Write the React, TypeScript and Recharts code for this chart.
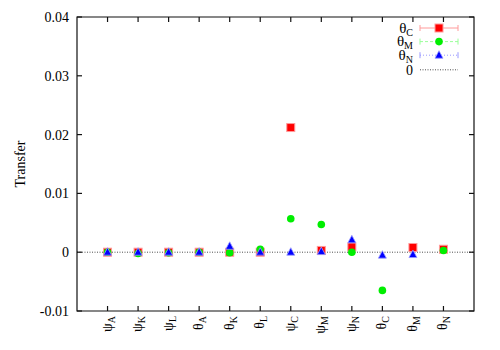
import React from 'react';
import {
  ScatterChart,
  Scatter,
  XAxis,
  YAxis,
  ReferenceLine,
  ReferenceArea,
  Legend
} from 'recharts';

// category labels: greek symbol + subscript
const symbols = ['ψ', 'ψ', 'ψ', 'θ', 'θ', 'θ', 'ψ', 'ψ', 'ψ', 'θ', 'θ', 'θ'];
const subscripts = ['A', 'K', 'L', 'A', 'K', 'L', 'C', 'M', 'N', 'C', 'M', 'N'];

// series values (null = no point drawn)
const thetaC = [0, 0, 0, 0, 0, 0, 0.0212, 0.0003, 0.0009, null, 0.0008, 0.0005];
const thetaM = [0, -0.0002, -0.0001, 0, -0.0001, 0.0005, 0.0057, 0.0047, 0, -0.0065, null, 0.0003];
const thetaN = [0, 0, 0, 0, 0.001, 0, 0, 0.0001, 0.0021, -0.0005, -0.0004, null];

const yTicks = [-0.01, 0, 0.01, 0.02, 0.03, 0.04];
const xTicks = subscripts.map((_, i) => i + 1);

const FONT = '"Liberation Serif", "Times New Roman", serif';
const PLOT = { left: 77, right: 474, top: 17, bottom: 311 };
const TICK = 5;

const toPoints = (vals: (number | null)[]) =>
  vals
    .map((v, i) => (v === null ? null : { x: i + 1, y: v }))
    .filter(p => p !== null) as { x: number; y: number }[];

const series = [
  { key: 'C', name: 'θ', sub: 'C', data: toPoints(thetaC), color: '#ff0000', light: '#ff9a9a', dash: undefined, shape: 'square' },
  { key: 'M', name: 'θ', sub: 'M', data: toPoints(thetaM), color: '#00ee00', light: '#9aff9a', dash: '3 2', shape: 'circle' },
  { key: 'N', name: 'θ', sub: 'N', data: toPoints(thetaN), color: '#0000ff', light: '#9a9aff', dash: '1 2', shape: 'triangle' }
];

const Marker = ({ cx, cy, shape, color, light }: any) => {
  if (cx == null || cy == null) return null;
  if (shape === 'square') {
    return <rect x={cx - 4} y={cy - 4} width={8} height={8} fill={color} stroke={light} strokeWidth={1} />;
  }
  if (shape === 'circle') {
    return <circle cx={cx} cy={cy} r={3.8} fill={color} />;
  }
  return (
    <path
      d={`M${cx},${cy - 4.5} L${cx + 4},${cy + 3} L${cx - 4},${cy + 3} Z`}
      fill={color}
      stroke={light}
      strokeWidth={0.8}
    />
  );
};

const txt = { fontFamily: FONT, fill: '#000' };

// left tick draws its mirror on the right border too
const LeftTick = ({ y, payload }: any) => (
  <g>
    <line x1={PLOT.left} x2={PLOT.left + TICK} y1={y} y2={y} stroke="#111" strokeWidth={1.2} />
    <line x1={PLOT.right} x2={PLOT.right - TICK} y1={y} y2={y} stroke="#111" strokeWidth={1.2} />
    <text x={69} y={y} dy="0.35em" textAnchor="end" fontSize={14} style={txt}>
      {payload.value}
    </text>
  </g>
);

// bottom tick draws its mirror on the top border too
const BottomTick = ({ x, payload }: any) => {
  const i = payload.value - 1;
  return (
    <g>
      <line x1={x} x2={x} y1={PLOT.bottom} y2={PLOT.bottom - TICK} stroke="#111" strokeWidth={1.2} />
      <line x1={x} x2={x} y1={PLOT.top} y2={PLOT.top + TICK} stroke="#111" strokeWidth={1.2} />
      <g transform={`translate(${x + 4},${PLOT.bottom + 5}) rotate(-90)`}>
        <text x={0} y={0} textAnchor="end" fontSize={14} style={txt}>
          {symbols[i]}
          <tspan fontSize={10} dy={3}>{subscripts[i]}</tspan>
        </text>
      </g>
    </g>
  );
};

const YLabel = ({ viewBox }: any) => {
  const cx = 20;
  const cy = viewBox.y + viewBox.height / 2;
  return (
    <text
      x={cx}
      y={cy}
      transform={`rotate(-90, ${cx}, ${cy})`}
      textAnchor="middle"
      dy="0.35em"
      fontSize={14}
      style={txt}
    >
      Transfer
    </text>
  );
};

const LegendBox = () => {
  const rowY = (i: number) => 10 + i * 13.6;
  return (
    <svg width={110} height={62} style={{ display: 'block' }}>
      {series.map((s, i) => {
        const y = rowY(i);
        return (
          <g key={s.key}>
            <text x={43} y={y} dy="0.3em" textAnchor="end" fontSize={15} style={txt}>
              {s.name}
              <tspan fontSize={10} dy={3}>{s.sub}</tspan>
            </text>
            <line x1={50} x2={88} y1={y} y2={y} stroke={s.light} strokeDasharray={s.dash} />
            <line x1={50} x2={50} y1={y - 3} y2={y + 3} stroke={s.light} />
            <line x1={88} x2={88} y1={y - 3} y2={y + 3} stroke={s.light} />
            <Marker cx={69} cy={y} shape={s.shape} color={s.color} light={s.light} />
          </g>
        );
      })}
      <text x={43} y={rowY(3) + 2} dy="0.3em" textAnchor="end" fontSize={14} style={txt}>
        0
      </text>
      <line x1={50} x2={88} y1={rowY(3) + 1} y2={rowY(3) + 1} stroke="#000" strokeDasharray="1 1.5" strokeWidth={0.7} />
    </svg>
  );
};

const App: React.FC = () => {
  return (
    <div style={{ position: 'absolute', left: 0, top: 0, width: 500, height: 350, background: '#fff', fontFamily: FONT }}>
      <ScatterChart
        width={500}
        height={350}
        margin={{ top: PLOT.top, right: 500 - PLOT.right, bottom: 0, left: 17 }}
      >
        <XAxis
          type="number"
          dataKey="x"
          domain={[0, 13]}
          ticks={xTicks}
          tick={<BottomTick />}
          tickLine={false}
          axisLine={false}
          height={350 - PLOT.bottom}
          interval={0}
        />
        <YAxis
          type="number"
          dataKey="y"
          domain={[-0.01, 0.04]}
          ticks={yTicks}
          tick={<LeftTick />}
          tickLine={false}
          axisLine={false}
          width={PLOT.left - 17}
          interval={0}
          label={<YLabel />}
        />
        <ReferenceArea
          x1={0}
          x2={13}
          y1={-0.01}
          y2={0.04}
          fill="none"
          stroke="#111"
          strokeWidth={1.2}
          ifOverflow="visible"
        />
        <ReferenceLine y={0} stroke="#000" strokeWidth={0.7} strokeDasharray="1 1.5" />
        {series.map(s => (
          <Scatter
            key={s.key}
            name={s.name + s.sub}
            data={s.data}
            isAnimationActive={false}
            shape={(p: any) => <Marker cx={p.cx} cy={p.cy} shape={s.shape} color={s.color} light={s.light} />}
          />
        ))}
        <Legend
          layout="vertical"
          align="center"
          verticalAlign="middle"
          wrapperStyle={{ position: 'absolute', left: 370, top: 18, width: 110, height: 62 }}
          content={() => <LegendBox />}
        />
      </ScatterChart>
    </div>
  );
};

export default App;
